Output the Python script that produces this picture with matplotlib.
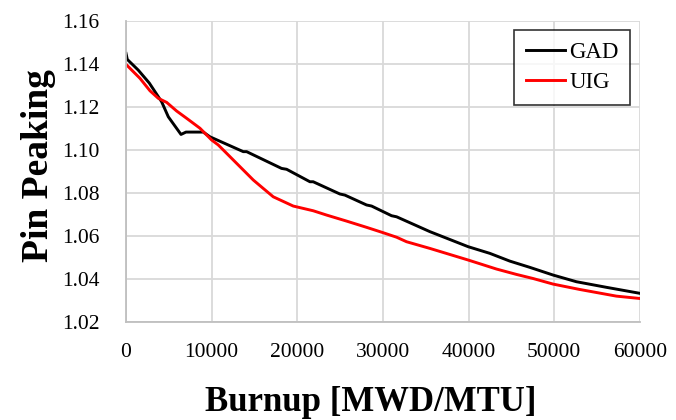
import matplotlib
matplotlib.use("Agg")
import matplotlib.pyplot as plt

# burnup (MWD/MTU) and pin peaking values
gad_burnup = [0, 150, 1435, 2720, 4160, 4940, 6420, 7000, 9020, 9800, 13690, 14080,
              18160, 18750, 21470, 21850, 24970, 25550, 28080, 28670, 31000, 31590,
              35470, 39940, 42470, 44800, 47130, 49860, 52580, 56080, 60000]
gad_peaking = [1.1448, 1.1420, 1.1370, 1.1310, 1.1223, 1.1153, 1.1071, 1.1082, 1.1082,
               1.1060, 1.0991, 1.0991, 1.0913, 1.0909, 1.0851, 1.0851, 1.0794, 1.0789,
               1.0743, 1.0738, 1.0693, 1.0688, 1.0619, 1.0549, 1.0518, 1.0482, 1.0453,
               1.0417, 1.0386, 1.0360, 1.0332]

uig_burnup = [0, 1630, 2800, 3770, 4750, 5910, 7080, 8630, 10000, 10770, 11350, 14860,
              16020, 17190, 19520, 20690, 21860, 23420, 25750, 28080, 30020, 31590,
              32750, 35470, 39940, 43250, 45580, 47520, 49860, 52970, 57250, 60000]
uig_peaking = [1.1397, 1.1332, 1.1274, 1.1239, 1.1220, 1.1180, 1.1146, 1.1100, 1.1045,
               1.1022, 1.0999, 1.0859, 1.0820, 1.0781, 1.0738, 1.0727, 1.0716, 1.0696,
               1.0668, 1.0639, 1.0614, 1.0593, 1.0572, 1.0541, 1.0487, 1.0445, 1.0420,
               1.0401, 1.0375, 1.0350, 1.0319, 1.0308]

x_ticks = [0, 10000, 20000, 30000, 40000, 50000, 60000]
y_ticks = [1.02, 1.04, 1.06, 1.08, 1.10, 1.12, 1.14, 1.16]

plt.rcParams['font.family'] = ['Liberation Serif', 'DejaVu Serif']

fig = plt.figure(figsize=(6.76, 4.20), dpi=100)
ax = fig.add_axes([0.1864, 0.234, 0.7603, 0.7167])

ax.plot(gad_burnup, gad_peaking, color='black', lw=2.1, label='GAD')
ax.plot(uig_burnup, uig_peaking, color='#ff0000', lw=2.1, label='UIG')

ax.set_xlim(0, 60000)
ax.set_ylim(1.02, 1.16)
ax.set_xticks(x_ticks)
ax.set_xticklabels([str(v) for v in x_ticks])
ax.set_yticks(y_ticks)
ax.set_yticklabels(['%.2f' % v for v in y_ticks])
ax.tick_params(axis='both', length=0, labelsize=15.5)
ax.tick_params(axis='x', pad=15)
ax.tick_params(axis='y', pad=19)

ax.grid(True, color='#d9d9d9', lw=1.3)
ax.set_axisbelow(True)
for side in ['top', 'right']:
    ax.spines[side].set_visible(False)
for side in ['left', 'bottom']:
    ax.spines[side].set_color('#bfbfbf')
    ax.spines[side].set_linewidth(1.3)

ax.set_xlabel('Burnup [MWD/MTU]', fontsize=25, fontweight='bold')
ax.xaxis.set_label_coords(0.476, -0.297)
ax.xaxis.label.set_va('baseline')
ax.set_ylabel('Pin Peaking', fontsize=27, fontweight='bold')
ax.yaxis.set_label_coords(-0.136, 0.52)

leg = ax.legend(loc='upper right', bbox_to_anchor=(0.9805, 0.969), fontsize=16.5,
                frameon=True, fancybox=False, handlelength=1.7, handletextpad=0.2,
                borderpad=0.5, labelspacing=0.42, borderaxespad=0)
leg.get_frame().set_edgecolor('black')
leg.get_frame().set_linewidth(1.2)

plt.savefig('out.png', dpi=100)
